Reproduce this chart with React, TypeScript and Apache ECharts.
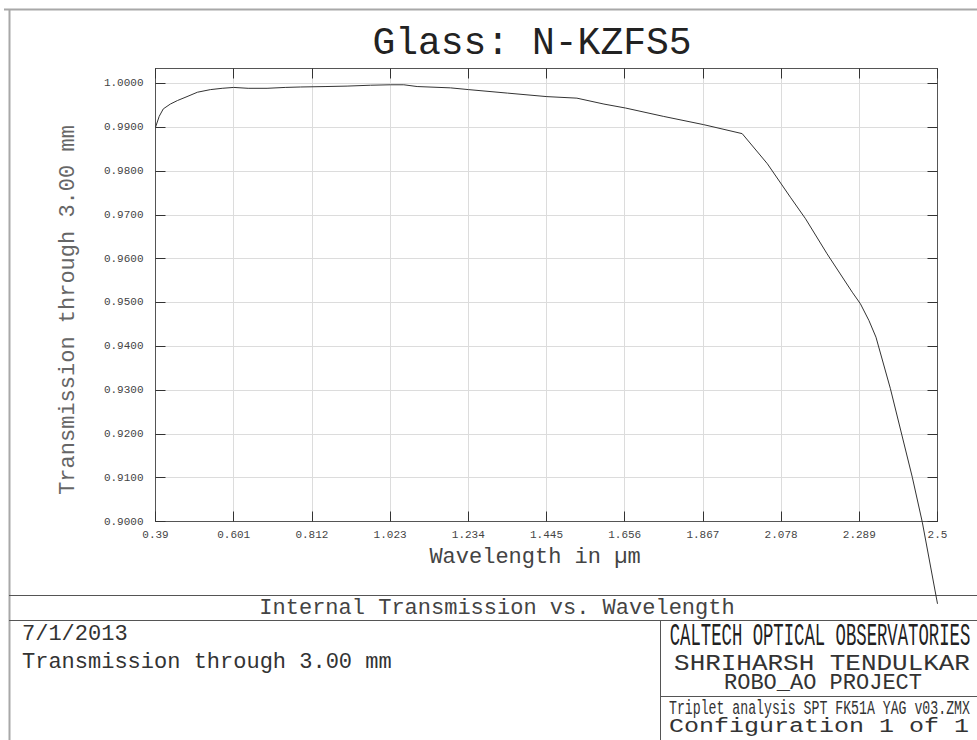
import React, { useEffect, useRef } from 'react';
import * as echarts from 'echarts';

const wavelengths = [
  0.39, 0.4, 0.411, 0.43, 0.449, 0.475, 0.503, 0.538, 0.57, 0.601, 0.64, 0.691, 0.74, 0.781,
  0.85, 0.907, 0.97, 1.024, 1.06, 1.096, 1.186, 1.235, 1.34, 1.446, 1.527, 1.6, 1.658, 1.76,
  1.869, 1.973, 2.041, 2.103, 2.144, 2.202, 2.27, 2.292, 2.315, 2.334, 2.373, 2.432, 2.459, 2.5,
];
const transmission = [
  0.99, 0.9925, 0.9942, 0.9953, 0.9961, 0.997, 0.998, 0.9986, 0.9989, 0.9991, 0.9989, 0.9989,
  0.9991, 0.9992, 0.9993, 0.9994, 0.9996, 0.9997, 0.9997, 0.9993, 0.999, 0.9986, 0.9978, 0.997,
  0.99665, 0.9953, 0.9944, 0.9925, 0.9906, 0.98855, 0.98167, 0.97404, 0.96911, 0.96112, 0.95235,
  0.9497, 0.94589, 0.94208, 0.9303, 0.91011, 0.89984, 0.88121,
];
const xTickValues = [0.39, 0.601, 0.812, 1.023, 1.234, 1.445, 1.656, 1.867, 2.078, 2.289, 2.5];
const yTickValues = [0.9, 0.91, 0.92, 0.93, 0.94, 0.95, 0.96, 0.97, 0.98, 0.99, 1.0];

const titleText = 'Glass: N-KZFS5';
const yAxisTitle = 'Transmission through 3.00 mm';
const xAxisTitle = 'Wavelength in \u00b5m';
const plotName = 'Internal Transmission vs. Wavelength';
const dateText = '7/1/2013';
const noteText = 'Transmission through 3.00 mm';
const orgText = 'CALTECH OPTICAL OBSERVATORIES';
const authorText = 'SHRIHARSH TENDULKAR';
const projectText = 'ROBO_AO PROJECT';
const fileText = 'Triplet analysis SPT FK51A YAG v03.ZMX';
const configText = 'Configuration 1 of 1';

const MONO = '"Liberation Mono", "DejaVu Sans Mono", monospace';

export default function App() {
  const ref = useRef<HTMLDivElement>(null);
  useEffect(() => {
    if (!ref.current) return;
    const chart = echarts.init(ref.current, null, { renderer: 'svg' });
    const data = wavelengths.map((w, i) => [w, transmission[i]]);
    const xFmt = (v: number) => String(Math.round(v * 1000) / 1000);
    const yFmt = (v: number) => (v > 1.0001 ? '' : v.toFixed(4));
    const line = (x1: number, y1: number, x2: number, y2: number, color: string, w: number) => ({
      type: 'line',
      shape: { x1, y1, x2, y2 },
      style: { stroke: color, lineWidth: w },
      silent: true,
    });
    const text = (
      t: string,
      x: number,
      y: number,
      size: number,
      align: string,
      color: string,
      extra: any = {}
    ) => ({
      type: 'text',
      x,
      y,
      silent: true,
      ...extra,
      style: {
        text: t,
        fontFamily: MONO,
        fontSize: size,
        fill: color,
        textAlign: align,
        align,
        textVerticalAlign: 'middle',
        verticalAlign: 'middle',
      },
    });

    chart.setOption({
      animation: false,
      backgroundColor: '#ffffff',
      grid: { left: 155.5, right: 39.5, top: 68.5, bottom: 218.5, containLabel: false },
      xAxis: [
        {
          type: 'value',
          min: 0.39,
          max: 2.5,
          position: 'bottom',
          axisLine: { show: true, onZero: false, lineStyle: { color: '#555', width: 1 } },
          axisTick: { show: true, inside: true, length: 10, customValues: xTickValues, lineStyle: { color: '#333' } },
          axisLabel: {
            customValues: xTickValues,
            formatter: xFmt,
            fontFamily: MONO,
            fontSize: 11,
            color: '#444',
            margin: 8,
          },
          splitLine: { show: true, lineStyle: { color: '#dcdcdc', width: 1 } },
        },
        {
          type: 'value',
          min: 0.39,
          max: 2.5,
          position: 'top',
          axisLine: { show: true, onZero: false, lineStyle: { color: '#555', width: 1 } },
          axisTick: { show: true, inside: true, length: 10, customValues: xTickValues, lineStyle: { color: '#333' } },
          axisLabel: { show: false },
          splitLine: { show: false },
        },
      ],
      yAxis: [
        {
          type: 'value',
          min: 0.9,
          max: 1.00342,
          position: 'left',
          axisLine: { show: true, onZero: false, lineStyle: { color: '#555', width: 1 } },
          axisTick: { show: true, inside: true, length: 10, customValues: yTickValues, lineStyle: { color: '#333' } },
          axisLabel: {
            customValues: yTickValues,
            formatter: yFmt,
            fontFamily: MONO,
            fontSize: 11,
            color: '#444',
            margin: 12,
          },
          splitLine: { show: true, lineStyle: { color: '#dcdcdc', width: 1 } },
        },
        {
          type: 'value',
          min: 0.9,
          max: 1.00342,
          position: 'right',
          axisLine: { show: true, onZero: false, lineStyle: { color: '#555', width: 1 } },
          axisTick: { show: true, inside: true, length: 10, customValues: yTickValues, lineStyle: { color: '#333' } },
          axisLabel: { show: false },
          splitLine: { show: false },
        },
      ],
      series: [
        {
          type: 'line',
          xAxisIndex: 0,
          yAxisIndex: 0,
          data,
          clip: false,
          showSymbol: false,
          symbol: 'none',
          smooth: false,
          lineStyle: { color: '#333', width: 1 },
          z: 5,
        },
      ],
      graphic: {
        elements: [
          line(4, 9.5, 977, 9.5, '#a8a8a8', 2),
          line(9.5, 9, 9.5, 740, '#a8a8a8', 2),
          line(9, 595.5, 977, 595.5, '#555', 1),
          line(9, 620.5, 977, 620.5, '#555', 1),
          line(660.5, 621, 660.5, 740, '#555', 1),
          line(660, 696.5, 977, 696.5, '#555', 1),
          text(titleText, 532, 43, 38, 'center', '#222'),
          text(yAxisTitle, 68, 310, 22, 'center', '#666', { rotation: Math.PI / 2 }),
          text(xAxisTitle, 535, 557, 22, 'center', '#444'),
          text(plotName, 497, 608, 22, 'center', '#444'),
          text(dateText, 22, 634, 22, 'left', '#333'),
          text(noteText, 22, 662, 22, 'left', '#333'),
          text(orgText, 820, 637, 32, 'center', '#222', { scaleX: 0.54 }),
          text(authorText, 822, 664, 22, 'center', '#333', { scaleX: 1.18 }),
          text(projectText, 823, 683, 22, 'center', '#333'),
          text(fileText, 669, 709, 20, 'left', '#333', { scaleX: 0.66 }),
          text(configText, 669, 727, 20, 'left', '#333', { scaleX: 1.25 }),
        ],
      },
    });
    return () => chart.dispose();
  }, []);
  return (
    <div
      ref={ref}
      style={{ position: 'fixed', left: 0, top: 0, width: 977, height: 740, background: '#fff' }}
    />
  );
}
